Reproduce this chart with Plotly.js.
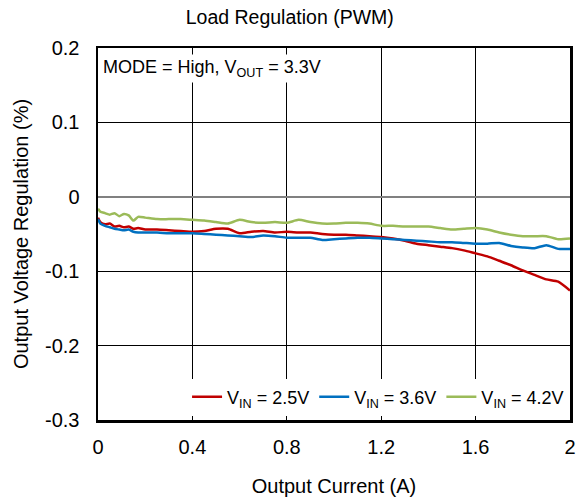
<!DOCTYPE html>
<html>
<head>
<meta charset="utf-8">
<script src="https://cdn.plot.ly/plotly-3.0.1.min.js"></script>
<style>
  html, body { margin: 0; padding: 0; background: #fff; }
  #chart { width: 583px; height: 502px; }
</style>
</head>
<body>
<div id="chart"></div>
<script>
// Output current (A)
const current = [0, 0.01, 0.03, 0.05, 0.07, 0.09, 0.11, 0.13, 0.15, 0.17, 0.2, 0.25, 0.3, 0.35, 0.4,
  0.45, 0.5, 0.55, 0.6, 0.65, 0.7, 0.75, 0.8, 0.85, 0.9, 0.95, 1.0, 1.05, 1.1, 1.15, 1.2,
  1.25, 1.3, 1.35, 1.4, 1.45, 1.5, 1.55, 1.6, 1.65, 1.7, 1.75, 1.8, 1.85, 1.9, 1.95, 2.0];

// Output voltage regulation (%) per input voltage
const vin25 = [-0.028, -0.034, -0.037, -0.036, -0.040, -0.039, -0.041, -0.040, -0.043, -0.042, -0.044,
  -0.044, -0.045, -0.046, -0.047, -0.046, -0.043, -0.043, -0.049, -0.047, -0.046, -0.048, -0.047,
  -0.048, -0.048, -0.050, -0.051, -0.051, -0.052, -0.053, -0.054, -0.056, -0.059, -0.063, -0.065,
  -0.067, -0.069, -0.072, -0.076, -0.080, -0.086, -0.092, -0.099, -0.105, -0.111, -0.114, -0.126];
const vin36 = [-0.030, -0.036, -0.039, -0.041, -0.043, -0.044, -0.045, -0.044, -0.047, -0.048, -0.048,
  -0.048, -0.049, -0.049, -0.049, -0.050, -0.051, -0.052, -0.053, -0.054, -0.052, -0.053, -0.055,
  -0.055, -0.055, -0.058, -0.057, -0.056, -0.055, -0.055, -0.056, -0.057, -0.058, -0.059, -0.060,
  -0.061, -0.061, -0.062, -0.063, -0.063, -0.062, -0.066, -0.068, -0.069, -0.065, -0.070, -0.070];
const vin42 = [-0.016, -0.020, -0.022, -0.024, -0.022, -0.026, -0.023, -0.025, -0.032, -0.027, -0.028,
  -0.030, -0.030, -0.030, -0.031, -0.032, -0.034, -0.036, -0.031, -0.034, -0.035, -0.034, -0.035,
  -0.031, -0.034, -0.036, -0.036, -0.035, -0.035, -0.036, -0.039, -0.039, -0.040, -0.040, -0.040,
  -0.042, -0.044, -0.043, -0.042, -0.044, -0.048, -0.051, -0.053, -0.053, -0.053, -0.057, -0.056];

const seriesNames = ['V<sub>IN</sub> = 2.5V', 'V<sub>IN</sub> = 3.6V', 'V<sub>IN</sub> = 4.2V'];
const seriesColors = ['#C00000', '#0070C0', '#9BBB59'];
const seriesValues = [vin25, vin36, vin42];

const xTicks = [0, 0.4, 0.8, 1.2, 1.6, 2];
const yTicks = [0.2, 0.1, 0, -0.1, -0.2, -0.3];

const family = 'Liberation Sans, Arial, sans-serif';
const font = { family: family, size: 20, color: '#000' };

const traces = seriesValues.map((v, i) => ({
  x: current,
  y: v,
  type: 'scatter',
  mode: 'lines',
  name: seriesNames[i],
  line: { color: seriesColors[i], width: 2.5, shape: 'spline', smoothing: 0.6 }
}));

const layout = {
  width: 583,
  height: 502,
  margin: { l: 98, r: 13, t: 48, b: 82 },
  paper_bgcolor: '#fff',
  plot_bgcolor: '#fff',
  font: font,
  title: { text: 'Load Regulation (PWM)', font: { family: family, size: 19.5, color: '#000' },
           x: 0.497, xanchor: 'center', y: 0.965, yanchor: 'middle' },
  xaxis: {
    range: [0, 2],
    tickvals: xTicks,
    ticktext: xTicks.map(String),
    showgrid: true, gridcolor: '#000', gridwidth: 1,
    zeroline: false,
    showline: true, linecolor: '#000', linewidth: 2.5, mirror: true,
    ticks: 'outside', ticklen: 7, tickcolor: 'rgba(0,0,0,0)',
    tickfont: font,
    title: { text: 'Output Current (A)', font: font, standoff: 23 },
    fixedrange: true
  },
  yaxis: {
    range: [-0.3, 0.2],
    tickvals: yTicks,
    ticktext: yTicks.map(v => v === 0 ? '0' : String(v)),
    showgrid: true, gridcolor: '#000', gridwidth: 1,
    zeroline: true, zerolinecolor: '#808080', zerolinewidth: 2,
    showline: true, linecolor: '#000', linewidth: 2.5, mirror: true,
    ticks: 'outside', ticklen: 12, tickcolor: 'rgba(0,0,0,0)',
    tickfont: font,
    title: { text: 'Output Voltage Regulation (%)', font: font, standoff: 11 },
    fixedrange: true
  },
  showlegend: true,
  legend: {
    orientation: 'h',
    x: 0.998, xanchor: 'right',
    y: 0.012, yanchor: 'bottom',
    bgcolor: '#fff',
    borderwidth: 0,
    font: { family: family, size: 18, color: '#000' },
    itemwidth: 30,
    tracegroupgap: 0
  },
  annotations: [{
    xref: 'paper', yref: 'paper',
    x: 0.004, y: 0.985, xanchor: 'left', yanchor: 'top',
    text: 'MODE = High, V<sub>OUT</sub> = 3.3V',
    showarrow: false,
    bgcolor: '#fff',
    font: { family: family, size: 18, color: '#000' },
    borderpad: 2
  }]
};

Plotly.newPlot('chart', traces, layout, { displayModeBar: false, staticPlot: true });
</script>
</body>
</html>
